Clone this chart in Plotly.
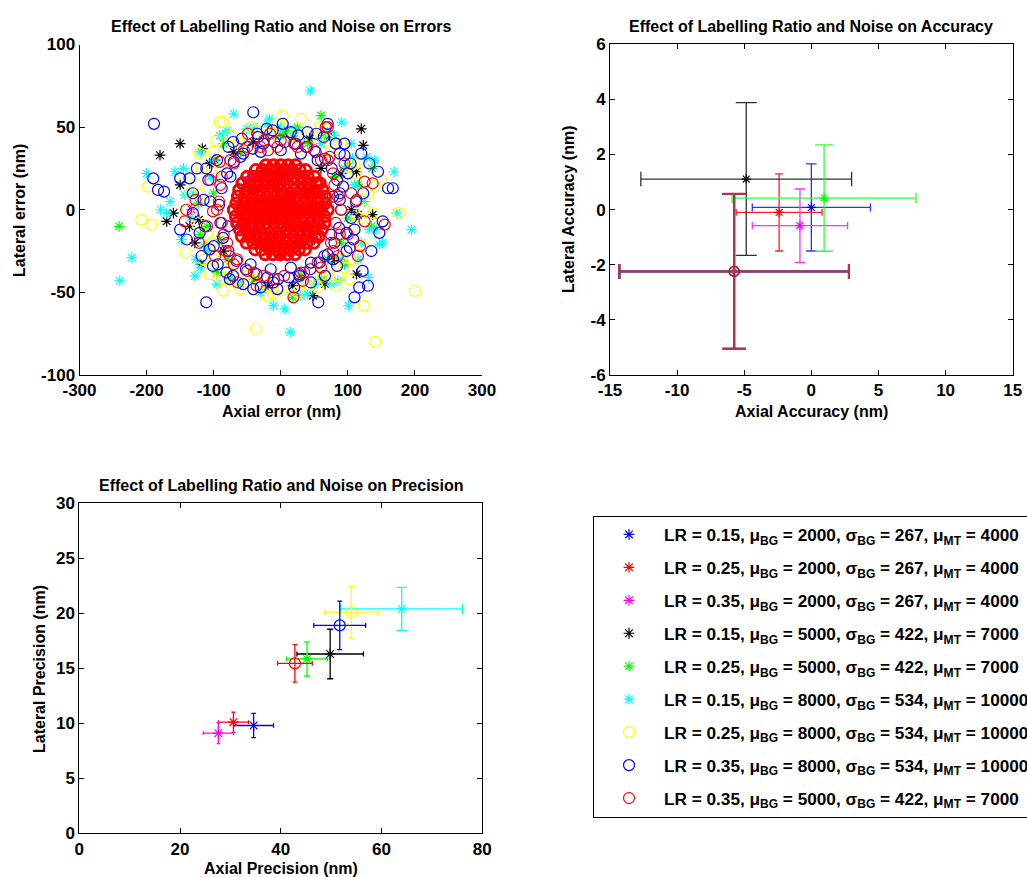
import plotly.graph_objects as go

W, H = 1027, 877

# ---------------- series metadata ----------------
lr = [0.15, 0.25, 0.35, 0.15, 0.25, 0.15, 0.25, 0.35, 0.35]
mu_bg = [2000, 2000, 2000, 5000, 5000, 8000, 8000, 8000, 5000]
sigma_bg = [267, 267, 267, 422, 422, 534, 534, 534, 422]
mu_mt = [4000, 4000, 4000, 7000, 7000, 10000, 10000, 10000, 7000]
colors = ["#0000ff", "#ff0000", "#ff00ff", "#000000", "#00ff00",
          "#00ffff", "#ffff00", "#0000ff", "#ff0000"]
symbols = ["asterisk-open"] * 6 + ["circle-open"] * 3

# ---------------- Errors scatter (nm) ----------------
blue_star_x = [-40, -20, 5, 25, 45, -55, -10, 30, -30, 15, 50, -60]
blue_star_y = [10, -15, 20, -5, 12, -8, 2, -20, 22, 8, -18, 5]
red_star_x = [-35, -5, 20, 40, -50, 10, -25, 35, 0, -15]
red_star_y = [-12, 18, -22, 8, 15, -5, 25, -18, -28, 0]
mag_star_x = [-133, -45, 15, 35, -20, 50, -60, 5]
mag_star_y = [0, 20, -15, 12, -25, -5, -10, 25]
black_star_x = [-180, -150, -117, 120, 123, -170, -160, -136, -128, -119, 66, 48, 113, 113, 105, 115,
                -41, 43, 73, -106, -98, -150, -122, -19, 18, 137, 90, -85, 80, 60, -70]
black_star_y = [33, 40, 37, 49, 39, -7, -2, -10, -20, -33, -45, -52, -39, 23, 0, -3,
                41, 43, 45, 28, 30, 15, -6, -46, -46, -3, 22, -25, -30, 25, 35]
green_star_x = [60, -241, 136, -1, 100, 135, -91, 61, 18, -123, -60, 40, 80, -80, 30, -20, 90, -100,
                100, 10, -40, 70, -110, 115, 20, 5, 25, -85, 65, -120, 95, -95]
green_star_y = [57, -10, 25, 45, 26, -10, -18, -42, -53, 4, 35, 40, 20, -30, -40, 45, -20, 10,
                -5, 48, -42, -30, -10, 15, 43, 46, 50, 40, 45, -15, -33, -38]
cyan_star_x = [44, -70, -17, 91, -200, -158, 169, -179, 173, 195, -222, -240, -128, 147, -11, 6, 14, 101,
               40, 131, -143, -165, -148, -91, 128, -126, 70, 142, 85, -100, -110, 90, 60, -40, 20, 110,
               -130, 120, -60, 50, -170, 152, -75, 0, -115, 132, -51, 107, -86,
               105, 80, -20, -80, -120, -135, -120, -95, -30, 30, 75, 115, 125, -105, 95, -145, 140]
cyan_star_y = [72, 58, 55, 53, 22, 23, 23, 0, -2, -12, -29, -43, -40, -21, -58, -60, -74, -58,
               -51, -41, 9, 5, -18, 45, 32, -30, 47, -12, -43, 30, -25, -30, 40, 50, 48, 15,
               10, -20, -45, -45, -2, -20, -42, 50, -22, -12, 49, 31, 45,
               40, 45, 52, 48, 35, -5, -35, -45, -50, -52, -45, -30, 5, 20, 25, 25, 30]
yellow_o_x = [-208, -193, -198, -91, -86, 3, 30, 200, 141, -37, 124, -142, -106, -86, 83, 177, 137, 103,
              123, -121, -96, -11, 1, -36, 58, 150, -120, -110, -60, 60, 100, -80, 20, -30, 110, -140,
              75, 40, -90, 90, -50, 130, -103, -126, 110, -70, 70, -15, 45, -100, 95, 140, 105,
              118, 112, 90, 70, -5, -45, -75, -100, -118, -125, -115, -88, -60, -20, 25, 55, 85, 105,
              125, -135]
yellow_o_y = [-6, -9, 14, 53, 53, 57, 55, -49, -80, -72, -58, -26, -39, -49, -46, -2, -2, -42,
              -22, 34, 42, -51, -49, 48, 50, 18, 10, -15, 40, -40, 20, -35, 45, -45, -10, 0,
              35, -45, 25, -30, -40, 10, -20, 15, 28, -43, -40, 47, 44, -30, -35, 14, 27,
              -5, 22, 40, 42, 52, 50, 45, 35, 25, -8, -30, -42, -48, -52, -50, -47, -40, -30,
              0, 10]
blue_o_x = [-189, -41, 3, 70, 95, 120, -190, -183, -174, -150, -136, 145, 160, 167, 152, 147, -111, 56,
            110, 117, 130, 122, -41, -150, -121, -118, -101, -81, -71, -71, -34, -21, 26, 53, 88, 98,
            103, 78, -131, -111, 93, 88, -11, 28, 123, -131,
            90, 88, 84, 76, 66, 52, 38, 22, 6, -10, -26, -42, -56, -70, -80, -88, -92, -90, -86, -78,
            -66, -52, -36, -20, -4, 12, 28, 44, 58, 70, 80, 87, -105, -100, 105, 100,
            112, 108, 104, 95, 82, 64, 40, 15, -12, -35, -58, -78, -95, -108, -115, -113, -106, -94,
            -76, -56, -30, -5, 20, 45, 66, 84, 98, 110, -125, -140, 135, 132,
            -60, -30, 0, 30, 55, -45, -15, 15, 45, 65, -75, 75, -78, 78]
blue_o_y = [52, 59, 52, 52, 40, 34, 19, 12, 11, 19, 19, 23, 13, 13, -7, -14, -56, -56,
            -53, -47, -46, -37, -48, -12, -14, -28, -34, -38, -40, 41, 44, 49, 45, 46, 34, -14,
            -23, -30, 10, 25, 14, 6, -44, -40, 10, -2,
            0, 10, 18, 25, 31, 35, 38, 40, 41, 41, 40, 37, 34, 29, 22, 13, 3, -8, -17, -25,
            -31, -36, -39, -41, -42, -41, -39, -36, -32, -27, -20, -11, 5, -22, -5, 22,
            5, -18, 28, 33, 40, 44, 47, 47, 48, 46, 43, 38, 30, 18, 6, -10, -24, -33,
            -42, -45, -47, -48, -47, -44, -40, -34, -25, -12, 25, -18, -25, 28,
            32, 35, 36, 34, 30, -33, -36, -35, -32, -28, 20, -15, -10, 8]
red_o_outer_x = [-49, -16, 70, 137, 155, 115, -64, -36, 19, 33, -122, -143, -127, -101, 113, 118, -76, 73,
                 -91, -90, -85, 80, 75, -50, 40, -40, 30, 0, -10, 90, -95, 60, -70, -65, 55, 100,
                 -110, 67, 20, -25, 85, -80, -141, 125, -19, 125,
                 85, 82, 78, 70, 50, 25, -5, -30, -55, -75, -88, -92, -88, -82, -70, -50, -25, 5,
                 35, 60, 78, 88, 105, -105, 95, -98]
red_o_outer_y = [46, 46, 50, 16, -9, -28, -44, -46, -53, -43, -20, -7, 6, -1, 6, -22, -28, 32,
                 29, 15, -15, 15, -20, 38, 38, -38, -38, 42, -42, 0, 0, 30, 28, -30, -32, -15,
                 -10, 50, 40, 42, -28, -20, 0, 17, 36, -7,
                 8, -8, 22, 30, 36, 38, 38, 38, 36, 30, 20, 5, -8, -25, -33, -37, -40, -40,
                 -38, -35, -25, -15, 10, 18, 28, -28]
# dense core of the LR = 0.35 / 5000 cloud, rows of (lateral, [axial ...])
red_o_core_rows = [
    (0, [-70, -60, -50, -40, -30, -20, -10, 0, 10, 20, 30, 40, 50, 60, 70]),
    (4, [-66, -55, -45, -35, -25, -15, -5, 5, 15, 25, 35, 45, 55, 66]),
    (-4, [-67, -56, -46, -36, -26, -16, -6, 4, 14, 24, 34, 44, 54, 65]),
    (8, [-64, -53, -42, -31, -20, -9, 2, 13, 24, 35, 46, 57, 66]),
    (-8, [-65, -54, -43, -32, -21, -10, 1, 12, 23, 34, 45, 56, 65]),
    (12, [-62, -50, -40, -30, -20, -10, 0, 10, 20, 30, 40, 50, 62]),
    (-12, [-61, -51, -41, -31, -21, -11, -1, 9, 19, 29, 39, 49, 61]),
    (16, [-57, -46, -35, -24, -13, -2, 9, 20, 31, 42, 53, 58]),
    (-16, [-58, -47, -36, -25, -14, -3, 8, 19, 30, 41, 52, 57]),
    (20, [-50, -40, -30, -20, -10, 0, 10, 20, 30, 40, 50]),
    (-20, [-51, -41, -31, -21, -11, -1, 9, 19, 29, 39, 49]),
    (24, [-37, -27, -16, -5, 6, 17, 28, 37]),
    (-24, [-38, -28, -17, -6, 5, 16, 27, 36]),
    (27, [-22, -11, 0, 11, 22]),
    (-27, [-23, -12, -1, 10, 21]),
]
red_o_core_x = [x for y, xs in red_o_core_rows for x in xs]
red_o_core_y = [y for y, xs in red_o_core_rows for x in xs]

scatter_x = [blue_star_x, red_star_x, mag_star_x, black_star_x, green_star_x,
             cyan_star_x, yellow_o_x, blue_o_x, red_o_outer_x]
scatter_y = [blue_star_y, red_star_y, mag_star_y, black_star_y, green_star_y,
             cyan_star_y, yellow_o_y, blue_o_y, red_o_outer_y]

# ---------------- Accuracy (nm) ----------------
acc_x = [0.0, -2.4, -0.85, -4.85, 0.95, -5.75, -5.75, -5.75, -5.75]
acc_x_err = [4.4, 3.2, 3.55, 7.85, 6.85, 8.55, 8.55, 8.55, 8.55]
acc_y = [0.08, -0.1, -0.58, 1.11, 0.42, -2.24, -2.24, -2.24, -2.24]
acc_y_err = [1.58, 1.4, 1.33, 2.77, 1.93, 2.81, 2.81, 2.81, 2.81]

# ---------------- Precision (nm) ----------------
prec_x = [34.6, 30.6, 27.6, 49.8, 45.2, 64.0, 54.0, 51.7, 42.8]
prec_x_err = [3.95, 3.0, 3.0, 6.6, 4.05, 12.1, 5.3, 5.15, 3.45]
prec_y = [9.8, 10.1, 9.1, 16.3, 15.85, 20.4, 20.1, 18.9, 15.45]
prec_y_err = [1.1, 0.92, 0.95, 2.25, 1.55, 1.95, 2.35, 2.2, 1.7]

# ---------------- styling ----------------
acc_err_colors = ["#3030ff", "#ff2020", "#ff30ff", "#303030", "#30ff30",
                  "#00ffff", "#ffff00", "#0000ff", "#b4324f"]
acc_err_thick = [1.3, 1.3, 1.3, 1.3, 1.3, 2, 2, 2, 2.2]
acc_cap_y = [5.3, 4, 5.3, 10.5, 9, 11.7, 11.7, 11.7, 11.7]
acc_cap_x = [4, 3.4, 3.7, 7.3, 5.3, 7.5, 7.5, 7.5, 7.5]
prec_cap_y = [2.3, 2, 1.7, 3, 3, 5.3, 3.2, 2.5, 2.3]
prec_cap_x = [2.3, 2, 1.7, 2.5, 2.5, 5.3, 3, 2.5, 2.3]
marker_size = [9, 9, 9, 9, 9, 9, 11, 11, 11]

FONT = "Liberation Sans, Arial, sans-serif"


def px_x(p):
    return p / W


def px_y(p):
    return 1 - p / H


labels = [
    f"LR = {lr[i]:.2f}, μ<sub>BG</sub> = {mu_bg[i]}, σ<sub>BG</sub> = {sigma_bg[i]}, μ<sub>MT</sub> = {mu_mt[i]}"
    for i in range(9)
]

fig = go.Figure()


def mk(i, lw=1.2, size=None):
    return dict(symbol=symbols[i], size=size or marker_size[i], color=colors[i],
                line=dict(color=colors[i], width=lw))


# top-left: scatter
for i in range(9):
    if i == 8:
        fig.add_trace(go.Scatter(x=red_o_core_x, y=red_o_core_y, mode="markers",
                                 marker=mk(i, lw=3.0), showlegend=False,
                                 legendgroup=f"g{i}", name=labels[i],
                                 xaxis="x", yaxis="y", hoverinfo="skip"))
    fig.add_trace(go.Scatter(x=scatter_x[i], y=scatter_y[i], mode="markers",
                             marker=mk(i), showlegend=True, legendgroup=f"g{i}",
                             name=labels[i], xaxis="x", yaxis="y"))

# top-right: accuracy
for i in range(9):
    fig.add_trace(go.Scatter(
        x=[acc_x[i]], y=[acc_y[i]], mode="markers", marker=mk(i, size=marker_size[i] - 1),
        error_x=dict(type="data", array=[acc_x_err[i]], color=acc_err_colors[i],
                     thickness=acc_err_thick[i], width=acc_cap_x[i]),
        error_y=dict(type="data", array=[acc_y_err[i]], color=acc_err_colors[i],
                     thickness=acc_err_thick[i], width=acc_cap_y[i]),
        showlegend=False, legendgroup=f"g{i}", name=labels[i], xaxis="x2", yaxis="y2"))

# bottom-left: precision
for i in range(9):
    fig.add_trace(go.Scatter(
        x=[prec_x[i]], y=[prec_y[i]], mode="markers", marker=mk(i),
        error_x=dict(type="data", array=[prec_x_err[i]], color=colors[i],
                     thickness=1.3, width=prec_cap_x[i]),
        error_y=dict(type="data", array=[prec_y_err[i]], color=colors[i],
                     thickness=1.3, width=prec_cap_y[i]),
        showlegend=False, legendgroup=f"g{i}", name=labels[i], xaxis="x3", yaxis="y3"))


def ax(domain, rng, vals, anchor, mirror):
    return dict(domain=domain, range=rng, tickvals=vals, ticktext=[str(v) for v in vals],
                showline=True, linecolor="black", linewidth=1, mirror=mirror,
                ticks="inside", ticklen=5, tickcolor="black", tickwidth=1,
                showgrid=False, zeroline=False, anchor=anchor, automargin=False,
                tickfont=dict(family=FONT, size=17, color="black", weight="bold"))


fig.update_layout(
    template="none",
    width=W, height=H, margin=dict(l=0, r=0, t=0, b=0, pad=0, autoexpand=False),
    paper_bgcolor="white", plot_bgcolor="white",
    font=dict(family=FONT, color="black"),
    xaxis=ax([px_x(79.5), px_x(482)], [-300, 300], [-300, -200, -100, 0, 100, 200, 300], "y", False),
    yaxis=ax([px_y(375), px_y(44.5)], [-100, 100], [-100, -50, 0, 50, 100], "x", False),
    xaxis2=ax([px_x(610), px_x(1012.7)], [-15, 15], [-15, -10, -5, 0, 5, 10, 15], "y2", "ticks"),
    yaxis2=ax([px_y(375), px_y(44.3)], [-6, 6], [-6, -4, -2, 0, 2, 4, 6], "x2", "ticks"),
    xaxis3=ax([px_x(79.3), px_x(482.3)], [0, 80], [0, 20, 40, 60, 80], "y3", "ticks"),
    yaxis3=ax([px_y(833.3), px_y(503.3)], [0, 30], [0, 5, 10, 15, 20, 25, 30], "x3", "ticks"),
    legend=dict(x=px_x(593), y=px_y(515.7), xanchor="left", yanchor="top",
                bordercolor="black", borderwidth=1, bgcolor="white",
                font=dict(family=FONT, size=17.2, color="black", weight="bold"),
                traceorder="grouped", tracegroupgap=7.6, itemwidth=60),
    showlegend=True,
)

annots = [
    ("Effect of Labelling Ratio and Noise on Errors", 281, 26, 0),
    ("Effect of Labelling Ratio and Noise on Accuracy", 811, 26, 0),
    ("Effect of Labelling Ratio and Noise on Precision", 281, 485, 0),
    ("Axial error (nm)", 281, 411, 0),
    ("Axial Accuracy (nm)", 811, 411, 0),
    ("Axial Precision (nm)", 281, 868, 0),
    ("Lateral error (nm)", 19, 211, -90),
    ("Lateral Accuracy (nm)", 569, 210, -90),
    ("Lateral Precision (nm)", 39, 669, -90),
]
for text, x, y, ang in annots:
    fig.add_annotation(text=text, x=px_x(x), y=px_y(y), xref="paper", yref="paper",
                       xanchor="center", yanchor="middle", showarrow=False, textangle=ang,
                       font=dict(family=FONT, size=16, color="black", weight="bold"))

fig.write_html("out.html")
